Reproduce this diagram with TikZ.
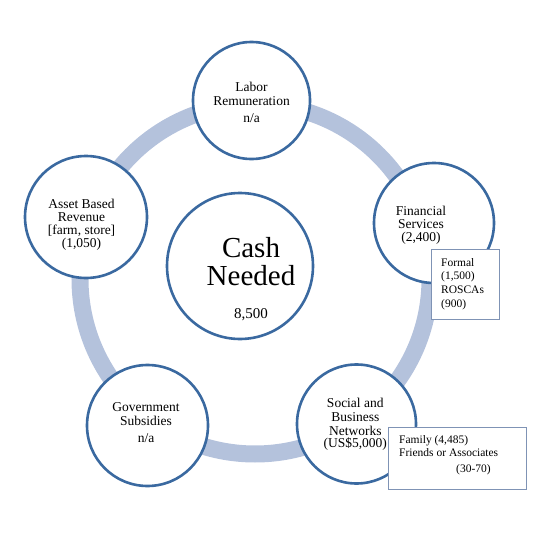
\documentclass[tikz,border=0pt]{standalone}
\usepackage{fontspec}
\setmainfont{Liberation Serif}
\definecolor{circblue}{HTML}{3A69A0}
\definecolor{ringblue}{HTML}{B4C2DC}
\definecolor{boxline}{HTML}{7F93B5}
\begin{document}
\begin{tikzpicture}[x=1pt,y=-1pt,
  bub/.style={circle,draw=circblue,line width=2.6pt,fill=white,inner sep=0pt},
  txt/.style={anchor=base,inner sep=0pt,font=\fontsize{13.5}{13.5}\selectfont},
  stxt/.style={anchor=base west,inner sep=0pt,font=\fontsize{11.5}{13}\selectfont},
  subbox/.style={draw=boxline,line width=0.8pt,fill=white,inner sep=0pt},
  ringline/.style={draw=ringblue,line width=17pt}]
\useasboundingbox (0,0) rectangle (550,538);
% ring
\coordinate (ringc) at (255,279);
\draw[ringline] (ringc) circle[radius=175pt];
% circles
\node[bub,minimum size=146pt] (cash) at (240,266) {};
\node[bub,minimum size=117pt] (labor) at (251.5,100.5) {};
\node[bub,minimum size=120pt] (fin) at (434,223) {};
\node[bub,minimum size=122pt] (asset) at (86,217) {};
\node[bub,minimum size=121pt] (gov) at (147.5,425.5) {};
\node[bub,minimum size=119pt] (soc) at (356.5,424) {};
% sub boxes
\node[subbox,minimum width=68pt,minimum height=70pt] (fbox) at (465,284) {};
\node[subbox,minimum width=138pt,minimum height=62pt] (sbox) at (457,458) {};
% center text
\node[anchor=base,inner sep=0pt,font=\fontsize{29}{29}\selectfont] (cash1) at (251,257) {Cash};
\node[anchor=base,inner sep=0pt,font=\fontsize{29}{29}\selectfont] (cash2) at (251,285) {Needed};
\node[anchor=base,inner sep=0pt,font=\fontsize{15}{15}\selectfont] (cash3) at (251,318) {8,500};
% labor
\node[txt] (lab1) at (251.5,92) {Labor};
\node[txt] (lab2) at (251.5,105) {Remuneration};
\node[txt] (lab3) at (251.5,122.5) {n/a};
% financial
\node[txt] (fin1) at (421,215) {Financial};
\node[txt] (fin2) at (421,228.5) {Services};
\node[txt] (fin3) at (421,241.7) {(2,400)};
% asset
\node[txt] (as1) at (81.5,208.7) {Asset Based};
\node[txt] (as2) at (81.5,221.7) {Revenue};
\node[txt] (as3) at (81.5,234.5) {[farm, store]};
\node[txt] (as4) at (81.5,247.3) {(1,050)};
% government
\node[txt] (gv1) at (146,411.7) {Government};
\node[txt] (gv2) at (146,425) {Subsidies};
\node[txt] (gv3) at (146,442.7) {n/a};
% social
\node[txt] (so1) at (355.3,407.7) {Social and};
\node[txt] (so2) at (355.3,421.5) {Business};
\node[txt] (so3) at (355.3,435) {Networks};
\node[txt] (so4) at (355.3,447.5) {(US\$5,000)};
% formal box text
\node[stxt] (fb1) at (441,266.3) {Formal};
\node[stxt] (fb2) at (441,279.5) {(1,500)};
\node[stxt] (fb3) at (441,293.5) {ROSCAs};
\node[stxt] (fb4) at (441,307.5) {(900)};
% family box text
\node[stxt] (sb1) at (399,443.3) {Family (4,485)};
\node[stxt] (sb2) at (399,456) {Friends or Associates};
\node[stxt] (sb3) at (456,472.7) {(30-70)};
\end{tikzpicture}
\end{document}
